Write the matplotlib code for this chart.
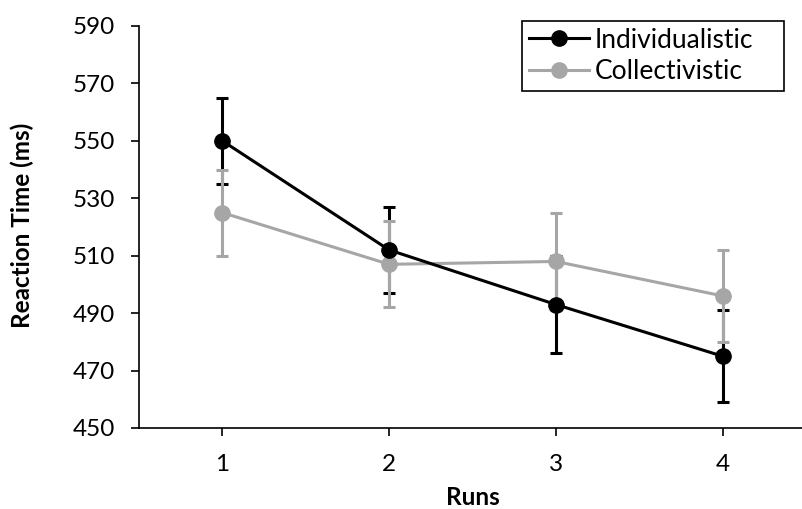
import matplotlib
matplotlib.use("Agg")
import matplotlib.pyplot as plt
from matplotlib.lines import Line2D

runs = [1, 2, 3, 4]
run_labels = ["1", "2", "3", "4"]
indiv = [550, 512, 493, 475]
indiv_err = [15, 15, 17, 16]
coll = [525, 507, 508, 496]
coll_err = [15, 15, 17, 16]
yticks = [450, 470, 490, 510, 530, 550, 570, 590]

plt.rcParams['font.family'] = ['Lato', 'DejaVu Sans']

W, H = 803, 509
fig = plt.figure(figsize=(W/100, H/100), dpi=100)
ax = fig.add_axes([139/W, 1-428/H, (806-139)/W, (428-26)/H])

gray = "#A6A6A6"
fs = 17.5
# error bars
ax.errorbar(runs, indiv, yerr=indiv_err, fmt='none', ecolor='black',
            elinewidth=2.2, capsize=4.5, capthick=2.2, zorder=1)
ax.errorbar(runs, coll, yerr=coll_err, fmt='none', ecolor=gray,
            elinewidth=2.2, capsize=4.5, capthick=2.2, zorder=2)
# lines + markers
ax.plot(runs, coll, color=gray, marker='o', markersize=11, linewidth=2.2, zorder=3)
ax.plot(runs, indiv, color='black', marker='o', markersize=11, linewidth=2.2, zorder=4)

ax.set_xlim(0.5, 4.5)
ax.set_ylim(450, 590)
ax.set_yticks(yticks)
ax.set_xticks(runs)
ax.set_xticklabels(run_labels)
ax.tick_params(axis='both', labelsize=fs, direction='out', length=6, width=1.2, colors='black')
ax.tick_params(axis='y', pad=11)
ax.tick_params(axis='x', pad=13)
for s in ['top', 'right']:
    ax.spines[s].set_visible(False)
for s in ['left', 'bottom']:
    ax.spines[s].set_linewidth(1.2)
ax.set_xlabel("Runs", fontsize=fs, fontweight='bold')
ax.set_ylabel("Reaction Time (ms)", fontsize=fs, fontweight='bold')
ax.xaxis.set_label_coords(((139+806)/2)/W, 1-486/H, transform=fig.transFigure)
ax.yaxis.set_label_coords(34/W, 1-225/H, transform=fig.transFigure)

handles = [Line2D([], [], color='black', marker='o', markersize=11, linewidth=2.2),
           Line2D([], [], color=gray, marker='o', markersize=11, linewidth=2.2)]
lx0, lx1, ly0, ly1 = 522, 784, 21, 86
leg = fig.legend(handles, ["Individualistic", "Collectivistic"], loc='upper left',
                 bbox_to_anchor=(lx0/W, 1-ly1/H, (lx1-lx0)/W, (ly1-ly0)/H),
                 mode='expand', fontsize=19, frameon=True,
                 fancybox=False, edgecolor='black', framealpha=1,
                 handlelength=2.3, handletextpad=0.2, borderpad=0.25,
                 labelspacing=0.25, borderaxespad=0)
leg.get_frame().set_linewidth(1.2)

fig.savefig("out.png", dpi=100)
